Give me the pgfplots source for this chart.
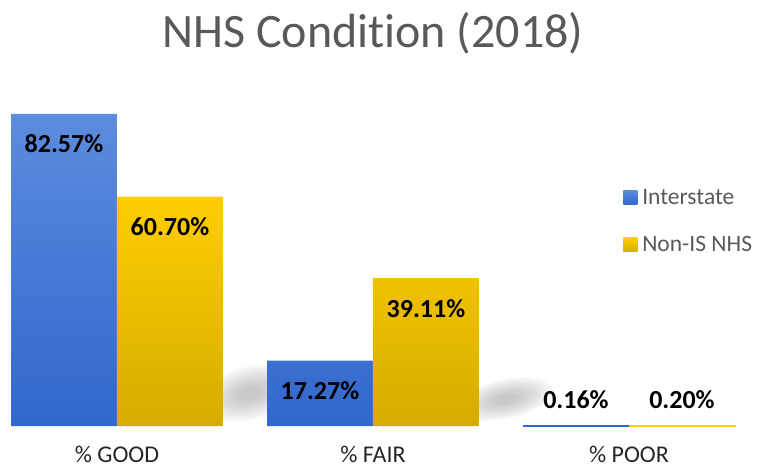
\documentclass[border=0pt]{standalone}
\usepackage{pgfplots}
\pgfplotsset{compat=1.18}
\usepackage{fontspec}
\setmainfont{Carlito}[Ligatures=NoCommon]
\definecolor{bluetop}{RGB}{92,140,221}
\definecolor{bluebot}{RGB}{50,103,205}
\definecolor{goldtop}{RGB}{255,205,0}
\definecolor{goldbot}{RGB}{212,172,0}
\definecolor{titlegray}{RGB}{89,89,89}
\definecolor{ticktext}{RGB}{38,38,38}
\begin{document}
\begin{tikzpicture}[x=1pt,y=1pt]
\useasboundingbox (0,0) rectangle (759,467);
% soft shadows behind the bars
\foreach \s in {1.0,0.93,0.86,0.79,0.72,0.65,0.58,0.51,0.44,0.37,0.30,0.23} {
  \fill[black!55, opacity=0.04, rotate around={15:(250,74)}] (250,74) ellipse [x radius={50*\s}, y radius={27*\s}];
  \fill[black!55, opacity=0.04, rotate around={12:(506,68)}] (506,68) ellipse [x radius={50*\s}, y radius={20*\s}];
}
\begin{axis}[
  at={(0pt,41pt)}, anchor=south west,
  scale only axis, width=759pt, height=326pt,
  xmin=-0.457, xmax=2.508, ymin=0, ymax=86.24,
  axis line style={draw=none},
  major tick length=0pt,
  ytick=\empty,
  xtick={0,1,2},
  xticklabels={\% GOOD,\% FAIR,\% POOR},
  xticklabel style={anchor=base, inner sep=0pt, yshift=-36pt, font=\fontsize{24}{24}\selectfont, text=ticktext},
  clip=false,
  point meta=explicit symbolic,
  legend style={at={(0.817,0.74)}, anchor=north west, draw=none, fill=none,
    font=\fontsize{23.5}{28}\selectfont, text=titlegray, row sep=27pt,
    nodes={inner xsep=5pt}},
  legend cell align=left,
]
\addplot[ybar, bar shift=-0.207, bar width=0.414, draw=none,
  top color=bluetop, bottom color=bluebot,
  nodes near coords,
  every node near coord/.append style={anchor=center, xshift=-53pt, yshift=-30pt, font=\bfseries\fontsize{26}{26}\selectfont, text=black},
  legend image code/.code={\shade[top color=bluetop, bottom color=bluebot] (0pt,-7pt) rectangle (14pt,7pt);}]
  coordinates {(0,82.57) [82.57\%] (1,17.27) [17.27\%]};
\addlegendentry{Interstate}
\addplot[ybar, bar shift=0.207, bar width=0.414, draw=none,
  top color=goldtop, bottom color=goldbot,
  nodes near coords,
  every node near coord/.append style={anchor=center, xshift=53pt, yshift=-30pt, font=\bfseries\fontsize{26}{26}\selectfont, text=black},
  legend image code/.code={\shade[top color=goldtop, bottom color=goldbot] (0pt,-7pt) rectangle (14pt,7pt);}]
  coordinates {(0,60.70) [60.70\%] (1,39.11) [39.11\%]};
\addlegendentry{Non-IS NHS}
\addplot[ybar, bar shift=-0.207, bar width=0.414, draw=bluebot, fill=bluebot, line width=0.8pt, forget plot,
  nodes near coords,
  every node near coord/.append style={anchor=center, xshift=-53pt, yshift=26pt, font=\bfseries\fontsize{26}{26}\selectfont, text=black}]
  coordinates {(2,0.16) [0.16\%]};
\addplot[ybar, bar shift=0.207, bar width=0.414, draw=goldtop, fill=goldtop, line width=0.8pt, forget plot,
  nodes near coords,
  every node near coord/.append style={anchor=center, xshift=53pt, yshift=26pt, font=\bfseries\fontsize{26}{26}\selectfont, text=black}]
  coordinates {(2,0.20) [0.20\%]};
\end{axis}
\node[anchor=base, text=titlegray, font=\fontsize{48}{48}\selectfont] at (373,419) {NHS Condition (2018)};
\end{tikzpicture}
\end{document}
